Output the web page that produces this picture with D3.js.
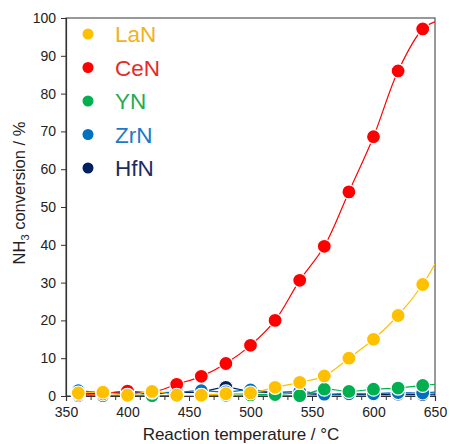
<!DOCTYPE html>
<html>
<head>
<meta charset="utf-8">
<script src="https://cdn.jsdelivr.net/npm/d3@7"></script>
<style>
  body { margin: 0; background: #fff; }
  text { font-family: "Liberation Sans", Arial, sans-serif; }
</style>
</head>
<body>
<div id="chart"></div>
<script>
// temperatures of the measured points (°C)
var temps = [360, 380, 400, 420, 440, 460, 480, 500, 520, 540, 560, 580, 600, 620, 640];
// NH3 conversion (%)
var lanValues = [0.8, 1.0, 0.2, 1.2, 0.2, 0.2, 0.6, 0.8, 2.3, 3.6, 5.3, 10.0, 15.0, 21.3, 29.5];
var cenValues = [0.5, 0.6, 1.3, 1.0, 3.1, 5.2, 8.6, 13.4, 20.0, 30.6, 39.6, 54.0, 68.6, 86.0, 97.1];
var ynValues = [0.1, 0.1, 0.2, 0.1, 0.1, 0.1, 0.2, 0.3, 0.4, 0.1, 1.8, 1.2, 1.8, 2.1, 2.8];
var zrnValues = [1.4, 0.9, 1.0, 0.8, 1.0, 1.4, 1.1, 1.6, 1.0, 1.2, 0.5, 0.6, 0.6, 0.9, 0.8];
var hfnValues = [0.6, 0.7, 0.8, 0.6, 0.9, 1.1, 2.3, 1.2, 0.9, 0.7, 0.4, 0.5, 0.4, 0.5, 0.4];
// fitted line value at the right edge (650 °C)
var endTemp = 650;
var endValues = {LaN: 35, CeN: 99, YN: 3.1, ZrN: 1.0, HfN: 0.5};

var xTicks = [350, 400, 450, 500, 550, 600, 650];
var yTicks = [0, 10, 20, 30, 40, 50, 60, 70, 80, 90, 100];

var series = [
    {name: "LaN", values: lanValues, color: "#FFC000", text: "#F2B21C"},
    {name: "CeN", values: cenValues, color: "#FF0000", text: "#E52B2B"},
    {name: "YN", values: ynValues, color: "#00B050", text: "#22AD4E"},
    {name: "ZrN", values: zrnValues, color: "#0070C0", text: "#1D78C6"},
    {name: "HfN", values: hfnValues, color: "#002060", text: "#1C2C5E"}
];

var W = 450, H = 444;
var margin = {top: 18, right: 15, bottom: 48, left: 66};
var width = W - margin.left - margin.right;
var height = H - margin.top - margin.bottom;

var svg = d3.select("#chart").append("svg")
    .attr("width", W)
    .attr("height", H);

var g = svg.append("g")
    .attr("transform", "translate(" + margin.left + "," + margin.top + ")");

var xScale = d3.scaleLinear().domain([350, 650]).range([0, width]);
var yScale = d3.scaleLinear().domain([0, 100]).range([height, 0]);

// frame
g.append("rect")
    .attr("width", width)
    .attr("height", height)
    .attr("fill", "none")
    .attr("stroke", "#555")
    .attr("stroke-width", 1.2);

// minor x ticks every 10
var xAxisMinor = d3.axisBottom(xScale)
    .tickValues(d3.range(360, 650, 10))
    .tickSize(4)
    .tickFormat("");
g.append("g")
    .attr("transform", "translate(0," + height + ")")
    .call(xAxisMinor)
    .call(s => s.select(".domain").remove())
    .selectAll("line").attr("stroke", "#333");

var xAxis = d3.axisBottom(xScale).tickValues(xTicks).tickSize(5).tickPadding(6);
var xg = g.append("g")
    .attr("transform", "translate(0," + height + ")")
    .call(xAxis);
xg.select(".domain").attr("stroke", "#333").attr("stroke-width", 1.2);
xg.selectAll("line").attr("stroke", "#333");
xg.selectAll("text").attr("font-size", 14).attr("fill", "#222")
    .style("font-family", "Liberation Sans, Arial, sans-serif");

var yAxis = d3.axisLeft(yScale).tickValues(yTicks).tickSize(5).tickPadding(5);
var yg = g.append("g").call(yAxis);
yg.select(".domain").attr("stroke", "#333").attr("stroke-width", 1.2);
yg.selectAll("line").attr("stroke", "#333");
yg.selectAll("text").attr("font-size", 14).attr("fill", "#222")
    .style("font-family", "Liberation Sans, Arial, sans-serif");

// axis titles
svg.append("text")
    .attr("x", 241)
    .attr("y", H - 4)
    .attr("text-anchor", "middle")
    .attr("font-size", 17)
    .attr("fill", "#222")
    .text("Reaction temperature / °C");

var yTitle = svg.append("text")
    .attr("transform", "translate(25,193) rotate(-90)")
    .attr("text-anchor", "middle")
    .attr("font-size", 16.5)
    .attr("fill", "#222");
yTitle.append("tspan").text("NH");
yTitle.append("tspan").attr("font-size", 11).attr("dy", 4).text("3");
yTitle.append("tspan").attr("dy", -4).text(" conversion / %");

// lines (drawn from the reversed order so LaN sits on top)
var line = d3.line()
    .x(d => xScale(d[0]))
    .y(d => yScale(d[1]))
    .curve(d3.curveCatmullRom.alpha(0.5));

var plotOrder = series.slice().reverse();

g.append("clipPath").attr("id", "clip")
    .append("rect").attr("width", width).attr("height", height);

plotOrder.forEach(function(s) {
    var pts = temps.map((t, i) => [t, s.values[i]]);
    pts.push([endTemp, endValues[s.name]]);
    g.append("path")
        .datum(pts)
        .attr("clip-path", "url(#clip)")
        .attr("fill", "none")
        .attr("stroke", s.color)
        .attr("stroke-width", 1.2)
        .attr("d", line);
});

plotOrder.forEach(function(s) {
    g.append("g").selectAll("circle")
        .data(temps.map((t, i) => [t, s.values[i]]))
        .enter()
        .append("circle")
        .attr("cx", d => xScale(d[0]))
        .attr("cy", d => yScale(d[1]))
        .attr("r", 7)
        .attr("fill", s.color)
        .attr("stroke", "#fff")
        .attr("stroke-width", 1.2);
});

// legend
var legend = g.append("g").attr("transform", "translate(22,16)");
legend.selectAll("g")
    .data(series)
    .enter()
    .append("g")
    .attr("transform", (d, i) => "translate(0," + (i * 33.5) + ")")
    .each(function(d) {
        var item = d3.select(this);
        item.append("circle")
            .attr("r", 5.5)
            .attr("fill", d.color);
        item.append("text")
            .attr("x", 27)
            .attr("dy", "0.36em")
            .attr("font-size", 22.5)
            .attr("fill", d.text)
            .text(d.name);
    });
</script>
</body>
</html>
